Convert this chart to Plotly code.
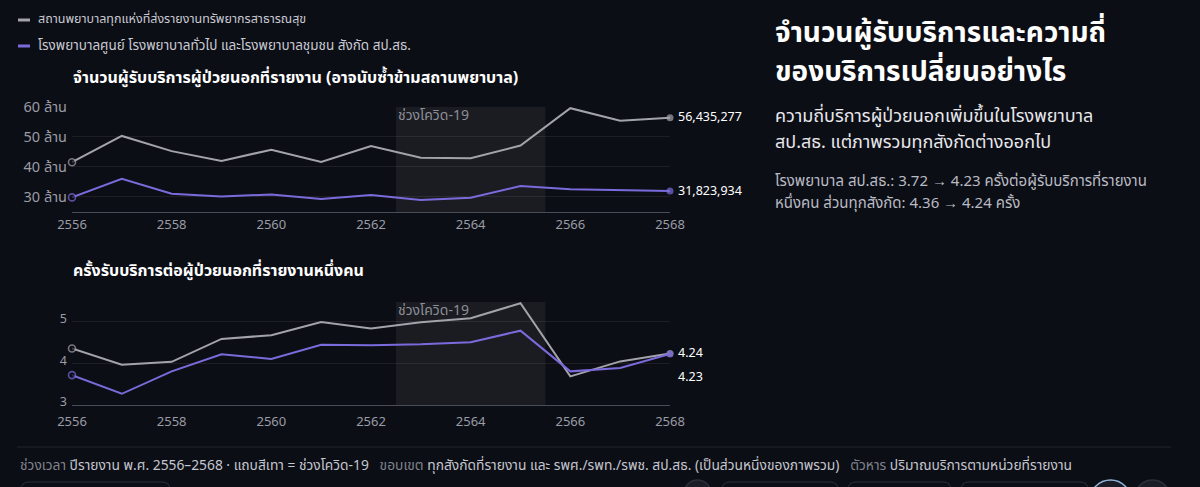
import plotly.graph_objects as go

W, H = 1200, 487
BG = "#0c0e15"
GREY = "#a2a3ab"
PURPLE = "#7a6bdc"
FONT = "Noto Sans Thai, Noto Sans, sans-serif"

YEARS = list(range(2556, 2569))
# outpatients reported (millions)
ALL_PATIENTS = [41.5, 50.3, 45.2, 41.9, 45.7, 41.6, 46.9, 43.0, 42.8, 47.1, 59.6, 55.4, 56.435277]
MOPH_PATIENTS = [29.7, 35.9, 30.9, 30.0, 30.7, 29.2, 30.5, 28.8, 29.6, 33.5, 32.4, 32.1, 31.823934]
# visits per outpatient
ALL_VISITS = [4.36, 3.97, 4.04, 4.59, 4.68, 5.00, 4.84, 4.99, 5.09, 5.45, 3.69, 4.05, 4.24]
MOPH_VISITS = [3.72, 3.27, 3.81, 4.22, 4.11, 4.45, 4.44, 4.46, 4.51, 4.79, 3.81, 3.89, 4.23]

COVID = (2562.5, 2565.5)
X_TICKS = list(range(2556, 2569, 2))
Y1_TICKS = [30, 40, 50, 60]
Y1_TEXT = [f"{v} ล้าน" for v in Y1_TICKS]
Y2_TICKS = [3, 4, 5]

SERIES_NAMES = [
    "สถานพยาบาลทุกแห่งที่ส่งรายงานทรัพยากรสาธารณสุข",
    "โรงพยาบาลศูนย์ โรงพยาบาลทั่วไป และโรงพยาบาลชุมชน สังกัด สป.สธ.",
]


def px(x):
    return x / W


def py(y):
    return 1 - y / H


def series(x, y, color, xa, ya):
    n = len(y)
    return go.Scatter(
        x=x, y=y, mode="lines+markers", xaxis=xa, yaxis=ya, showlegend=False,
        cliponaxis=False,
        line=dict(color=color, width=2),
        marker=dict(
            size=[7] + [0] * (n - 2) + [7],
            color=[BG] + [color] * (n - 1),
            line=dict(color=color, width=[1.6] + [0] * (n - 1)),
        ),
        hoverinfo="skip",
    )


fig = go.Figure()
fig.add_trace(series(YEARS, ALL_PATIENTS, GREY, "x", "y"))
fig.add_trace(series(YEARS, MOPH_PATIENTS, PURPLE, "x", "y"))
fig.add_trace(series(YEARS, ALL_VISITS, GREY, "x2", "y2"))
fig.add_trace(series(YEARS, MOPH_VISITS, PURPLE, "x2", "y2"))

axis_x = dict(
    range=[2556, 2568], tickvals=X_TICKS, showgrid=False, zeroline=False, automargin=False,
    showline=True, linecolor="#4a4d57", linewidth=1, ticks="",
    tickfont=dict(family=FONT, size=13, color="#9a9ca6"),
)
axis_y = dict(
    showgrid=True, gridcolor="rgba(255,255,255,0.07)", zeroline=False, automargin=False,
    showline=False, ticks="", ticklabelstandoff=4,
    tickfont=dict(family=FONT, size=13, color="#9a9ca6"),
)

fig.update_layout(
    width=W, height=H, paper_bgcolor=BG, plot_bgcolor=BG,
    margin=dict(l=0, r=0, t=0, b=0, autoexpand=False),
    font=dict(family=FONT, color="#e6e6ea"),
    xaxis=dict(axis_x, domain=[px(72), px(670)], anchor="y"),
    yaxis=dict(axis_y, domain=[py(212), py(107)], range=[24.8, 60], anchor="x",
               tickvals=Y1_TICKS, ticktext=Y1_TEXT, tickfont_size=14.5),
    xaxis2=dict(axis_x, domain=[px(72), px(670)], anchor="y2", ticklabelstandoff=4),
    yaxis2=dict(axis_y, domain=[py(405), py(302)], range=[3, 5.48], anchor="x2",
                tickvals=Y2_TICKS, tickfont_size=12.5, ticklabelshift=-3),
)

# covid band + label
for xr, yr in (("x", "y"), ("x2", "y2")):
    fig.add_shape(type="rect", xref=xr, yref=f"{yr} domain", x0=COVID[0], x1=COVID[1],
                  y0=0, y1=1, fillcolor="rgba(255,255,255,0.06)", line_width=0, layer="below")
    fig.add_annotation(xref=xr, yref=f"{yr} domain", x=COVID[0], y=1, xanchor="left",
                       yanchor="top", xshift=0, yshift=4, showarrow=False, text="ช่วงโควิด-19",
                       font=dict(size=14, color="#8c8e98"))

# end labels
fig.add_annotation(x=YEARS[-1], y=ALL_PATIENTS[-1], xref="x", yref="y", xanchor="left",
                   xshift=6, showarrow=False, text=f"{round(ALL_PATIENTS[-1] * 1e6):,}",
                   font=dict(size=12.5, color="#ffffff"))
fig.add_annotation(x=YEARS[-1], y=MOPH_PATIENTS[-1], xref="x", yref="y", xanchor="left",
                   xshift=6, showarrow=False, text=f"{round(MOPH_PATIENTS[-1] * 1e6):,}",
                   font=dict(size=12.5, color="#ffffff"))
fig.add_annotation(x=YEARS[-1], y=ALL_VISITS[-1], xref="x2", yref="y2", xanchor="left",
                   xshift=6, showarrow=False, text=f"{ALL_VISITS[-1]:.2f}",
                   font=dict(size=12.5, color="#ffffff"))
fig.add_annotation(x=YEARS[-1], y=MOPH_VISITS[-1], xref="x2", yref="y2", xanchor="left",
                   xshift=6, yshift=-24, showarrow=False, text=f"{MOPH_VISITS[-1]:.2f}",
                   font=dict(size=12.5, color="#ffffff"))


def text(x, y, s, size, color="#e6e6ea", bold=False, anchor="left"):
    fig.add_annotation(xref="paper", yref="paper", x=px(x), y=py(y), xanchor=anchor,
                       yanchor="middle", showarrow=False, align="left",
                       text=f"<b>{s}</b>" if bold else s, font=dict(size=size, color=color))


# legend
for i, (name, color) in enumerate(zip(SERIES_NAMES, [GREY, PURPLE])):
    y = 20 + 26 * i
    fig.add_shape(type="line", xref="paper", yref="paper", x0=px(18), x1=px(30),
                  y0=py(y), y1=py(y), line=dict(color=color, width=3))
    text(36, y, name, 12.5 if i == 0 else 13.5, "#c9cad3")

# panel titles
text(71, 78, "จำนวนผู้รับบริการผู้ป่วยนอกที่รายงาน (อาจนับซ้ำข้ามสถานพยาบาล)", 16, "#ffffff", True)
text(71, 271, "ครั้งรับบริการต่อผู้ป่วยนอกที่รายงานหนึ่งคน", 16, "#ffffff", True)

# right side story text
text(773, 33, "จำนวนผู้รับบริการและความถี่", 28, "#ffffff", True)
text(773, 73, "ของบริการเปลี่ยนอย่างไร", 28, "#ffffff", True)
text(773, 117, "ความถี่บริการผู้ป่วยนอกเพิ่มขึ้นในโรงพยาบาล", 18, "#e8e8ec")
text(773, 143, "สป.สธ. แต่ภาพรวมทุกสังกัดต่างออกไป", 18, "#e8e8ec")
text(773, 181, "โรงพยาบาล สป.สธ.: 3.72 → 4.23 ครั้งต่อผู้รับบริการที่รายงาน", 15, "#b9bbc4")
text(773, 203, "หนึ่งคน ส่วนทุกสังกัด: 4.36 → 4.24 ครั้ง", 15, "#b9bbc4")

# footer
fig.add_shape(type="line", xref="paper", yref="paper", x0=px(17), x1=px(1171),
              y0=py(447), y1=py(447), line=dict(color="#22252e", width=1))
dim = "<span style='color:#7f828d'>{}</span>"
footer = (
    dim.format("ช่วงเวลา") + " ปีรายงาน พ.ศ. 2556–2568 · แถบสีเทา = ช่วงโควิด-19   "
    + dim.format("ขอบเขต") + " ทุกสังกัดที่รายงาน และ รพศ./รพท./รพช. สป.สธ. (เป็นส่วนหนึ่งของภาพรวม)   "
    + dim.format("ตัวหาร") + " ปริมาณบริการตามหน่วยที่รายงาน"
)
text(18, 465, footer, 13.8, "#c4c6cf")

# partially visible control buttons at the very bottom
for x0, x1 in ((21, 170), (722, 838), (848, 951), (961, 1088)):
    fig.add_shape(type="path", xref="paper", yref="paper",
                  path=(f"M {px(x0)},{py(500)} L {px(x0)},{py(490)} "
                        f"Q {px(x0)},{py(482)} {px(x0 + 8)},{py(482)} "
                        f"L {px(x1 - 8)},{py(482)} Q {px(x1)},{py(482)} {px(x1)},{py(490)} "
                        f"L {px(x1)},{py(500)}"),
                  line=dict(color="#2c2f3a", width=1))
for x0, x1, col in ((684, 711, "#2c2f3a"), (1090, 1131, "#8fb3d9"), (1135, 1170, "#2c2f3a")):
    fig.add_shape(type="circle", xref="paper", yref="paper", x0=px(x0), x1=px(x1),
                  y0=py(480 + (x1 - x0)), y1=py(480), line=dict(color=col, width=1.5),
                  fillcolor="#1a1d26")

fig.write_html(
    "out.html",
    config={"displayModeBar": False},
    post_script="document.body.style.margin='0';document.body.style.background='" + BG + "';",
)
